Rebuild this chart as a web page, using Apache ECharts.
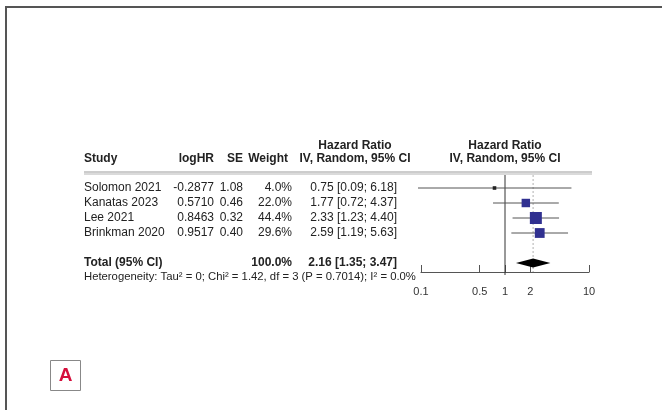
<!DOCTYPE html>
<html>
<head>
<meta charset="utf-8">
<script src="https://cdn.jsdelivr.net/npm/echarts@6/dist/echarts.min.js"></script>
<style>
  html, body { margin: 0; padding: 0; background: #fff; }
  #main { width: 662px; height: 410px; }
</style>
</head>
<body>
<div id="main"></div>
<script>
// Study-level data of the random-effects meta-analysis
const studies = ['Solomon 2021', 'Kanatas 2023', 'Lee 2021', 'Brinkman 2020'];
const logHR = [-0.2877, 0.5710, 0.8463, 0.9517];
const se = [1.08, 0.46, 0.32, 0.40];
const weights = [4.0, 22.0, 44.4, 29.6];
const hr = [0.75, 1.77, 2.33, 2.59];
const ciLow = [0.09, 0.72, 1.23, 1.19];
const ciHigh = [6.18, 4.37, 4.40, 5.63];

// Pooled estimate: [HR, lower, upper]
const totalHR = [2.16, 1.35, 3.47];
const totalWeight = [100.0];
const heterogeneity = 'Heterogeneity: Tau\u00B2 = 0; Chi\u00B2 = 1.42, df = 3 (P = 0.7014); I\u00B2 = 0.0%';

// Axis ticks (hazard ratio, log scale)
const tickValues = [0.1, 0.5, 1, 2, 10];
const tickLabels = ['0.1', '0.5', '1', '2', '10'];

const L = Math.log10;
const FONT = '"Liberation Sans", Arial, sans-serif';
const INK = '#222';
const BOX = '#303090';
// table column anchors (px)
const COL = { study: 84, logHR: 214, se: 243, weight: 292, ciMid: 355, ci: 397, lineEnd: 592 };

function txt(x, y, s, align, bold, size) {
  return {
    type: 'text',
    style: {
      x: x, y: y, text: s, align: align, verticalAlign: 'middle',
      fill: INK, fontFamily: FONT, fontSize: size || 12,
      fontWeight: bold ? 'bold' : 'normal'
    }
  };
}
const f2 = v => v.toFixed(2);
const ciText = (e, lo, hi) => `${f2(e)} [${f2(lo)}; ${f2(hi)}]`;

const chart = echarts.init(document.getElementById('main'));

const rowData = studies.map((s, i) => [0, i, i]);
const forestData = studies.map((s, i) => [L(hr[i]), i, L(ciLow[i]), L(ciHigh[i]), weights[i]]);

chart.setOption({
  animation: false,
  grid: { left: 421, right: 73, top: 173, bottom: 138 },
  xAxis: {
    type: 'value', min: -1, max: 1, position: 'bottom',
    splitLine: { show: false },
    axisLine: { onZero: false, lineStyle: { color: '#555', width: 1.2 } },
    axisTick: { inside: true, length: 7, customValues: tickValues.map(L), lineStyle: { color: '#555' } },
    axisLabel: {
      customValues: tickValues.map(L), margin: 14, color: '#333', fontSize: 11, fontFamily: FONT,
      formatter: v => {
        const k = tickValues.findIndex(t => Math.abs(L(t) - v) < 1e-6);
        return k >= 0 ? tickLabels[k] : '';
      }
    }
  },
  yAxis: { type: 'value', inverse: true, min: -1, max: 5.6, show: false },
  series: [
    {
      // headers, separator, reference lines, totals
      type: 'custom', clip: false, silent: true,
      data: [[0, 5]],
      renderItem: (params, api) => {
        const yRow = r => api.coord([0, r])[1];
        const x1 = api.coord([0, 0])[0];
        const xPool = api.coord([L(totalHR[0]), 0])[0];
        const ySep = yRow(-1);
        const yAxis = yRow(5.6);
        const yH1 = yRow(-2.8), yH2 = yRow(-1.95);
        const yTot = yRow(5), yHet = yRow(5.95);
        return {
          type: 'group',
          children: [
            txt(COL.study, yH2, 'Study', 'left', true),
            txt(COL.logHR, yH2, 'logHR', 'right', true),
            txt(COL.se, yH2, 'SE', 'right', true),
            txt(COL.weight - 4, yH2, 'Weight', 'right', true),
            txt(COL.ciMid, yH1, 'Hazard Ratio', 'center', true),
            txt(COL.ciMid, yH2, 'IV, Random, 95% CI', 'center', true),
            txt(x1, yH1, 'Hazard Ratio', 'center', true),
            txt(x1, yH2, 'IV, Random, 95% CI', 'center', true),
            { type: 'line', shape: { x1: COL.study, y1: ySep - 1, x2: COL.lineEnd, y2: ySep - 1 }, style: { stroke: '#9a9a9a', lineWidth: 1 } },
            { type: 'line', shape: { x1: COL.study, y1: ySep + 1, x2: COL.lineEnd, y2: ySep + 1 }, style: { stroke: '#b5b5b5', lineWidth: 1 } },
            { type: 'line', shape: { x1: xPool, y1: ySep + 2, x2: xPool, y2: yAxis }, style: { stroke: '#b0b0b0', lineWidth: 1, lineDash: [2, 2] } },
            { type: 'line', shape: { x1: x1, y1: ySep + 2, x2: x1, y2: yAxis + 3 }, style: { stroke: '#333', lineWidth: 1 } },
            txt(COL.study, yTot, 'Total (95% CI)', 'left', true),
            txt(COL.weight, yTot, totalWeight[0].toFixed(1) + '%', 'right', true),
            txt(COL.ci, yTot, ciText(totalHR[0], totalHR[1], totalHR[2]), 'right', true),
            txt(COL.study, yHet, heterogeneity, 'left', false, 11.3)
          ]
        };
      }
    },
    {
      // study rows of the table
      type: 'custom', clip: false, silent: true,
      data: rowData,
      encode: { x: 0, y: 1 },
      renderItem: (params, api) => {
        const i = api.value(2);
        const y = api.coord([0, api.value(1)])[1];
        return {
          type: 'group',
          children: [
            txt(COL.study, y, studies[i], 'left'),
            txt(COL.logHR, y, logHR[i].toFixed(4), 'right'),
            txt(COL.se, y, f2(se[i]), 'right'),
            txt(COL.weight, y, weights[i].toFixed(1) + '%', 'right'),
            txt(COL.ci, y, ciText(hr[i], ciLow[i], ciHigh[i]), 'right')
          ]
        };
      }
    },
    {
      // confidence intervals and weighted boxes; intervals past the axis end are cut there
      type: 'custom', clip: false, silent: true,
      data: forestData,
      encode: { x: 0, y: 1 },
      renderItem: (params, api) => {
        const row = api.value(1);
        const cutLeft = api.value(2) < -1;
        const lo = Math.max(api.value(2), -1);
        const hi = Math.min(api.value(3), 1);
        const p = api.coord([api.value(0), row]);
        const a = api.coord([lo, row]);
        const b = api.coord([hi, row]);
        const s = 12 * Math.sqrt(api.value(4) / 44.4);
        return {
          type: 'group',
          children: [
            { type: 'line', shape: { x1: a[0] - (cutLeft ? 3 : 0), y1: a[1], x2: b[0], y2: b[1] }, style: { stroke: '#555', lineWidth: 1 } },
            { type: 'rect', shape: { x: p[0] - s / 2, y: p[1] - s / 2, width: s, height: s }, style: { fill: api.value(4) < 10 ? '#222' : BOX } }
          ]
        };
      }
    },
    {
      // pooled diamond
      type: 'custom', clip: false, silent: true,
      data: [[L(totalHR[0]), 5, L(totalHR[1]), L(totalHR[2])]],
      encode: { x: 0, y: 1 },
      renderItem: (params, api) => {
        const c = api.coord([api.value(0), api.value(1)]);
        const l = api.coord([api.value(2), api.value(1)]);
        const r = api.coord([api.value(3), api.value(1)]);
        return {
          type: 'polygon',
          shape: { points: [[l[0], c[1]], [c[0], c[1] - 4.5], [r[0], c[1]], [c[0], c[1] + 4.5]] },
          style: { fill: '#000' }
        };
      }
    }
  ],
  graphic: [
    { type: 'line', shape: { x1: 6, y1: 7, x2: 662, y2: 7 }, style: { stroke: '#555', lineWidth: 2 } },
    { type: 'line', shape: { x1: 6, y1: 6, x2: 6, y2: 410 }, style: { stroke: '#555', lineWidth: 2 } },
    { type: 'rect', shape: { x: 50.5, y: 360.5, width: 30, height: 30 }, style: { fill: '#fff', stroke: '#888', lineWidth: 1 } },
    { type: 'text', style: { x: 65.5, y: 376, text: 'A', align: 'center', verticalAlign: 'middle', fill: '#d50f3c', fontFamily: FONT, fontSize: 19, fontWeight: 'bold' } }
  ]
});
</script>
</body>
</html>
